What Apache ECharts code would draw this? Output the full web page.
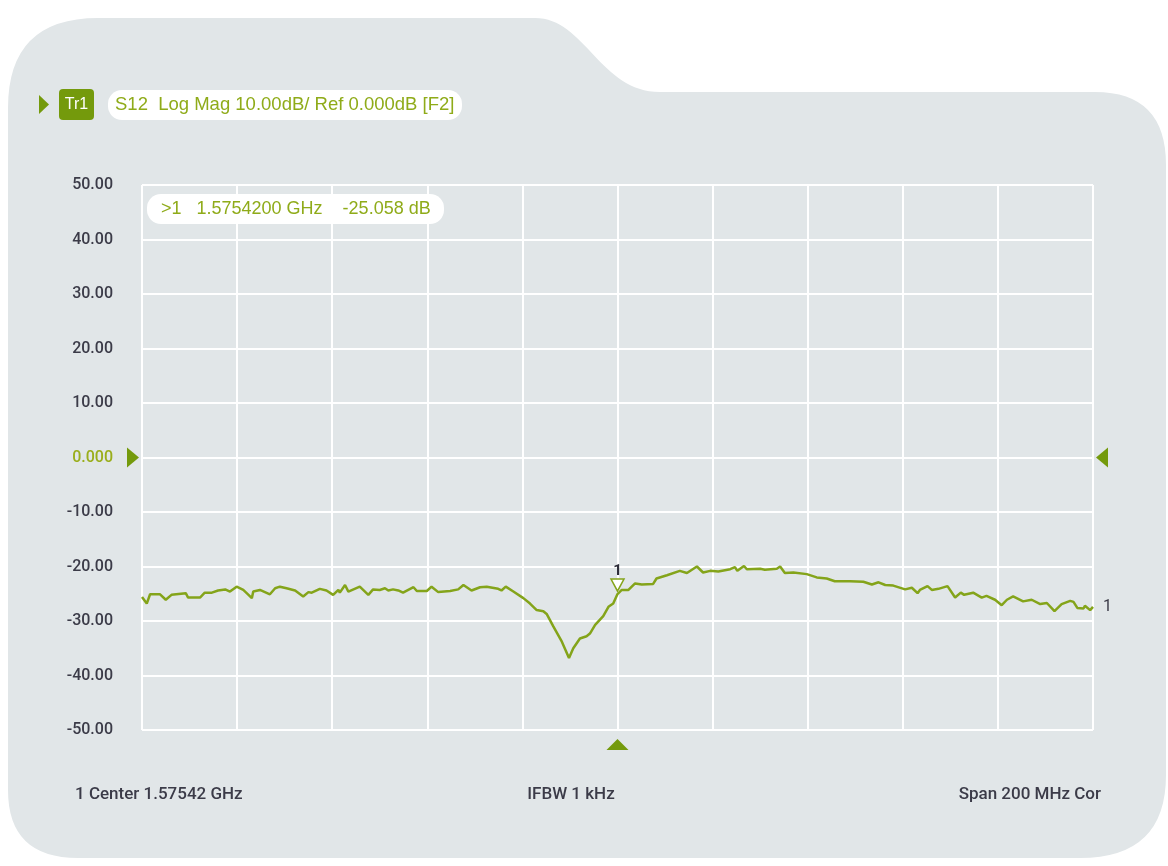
<!DOCTYPE html>
<html>
<head>
<meta charset="utf-8">
<script src="https://cdn.jsdelivr.net/npm/echarts@6/dist/echarts.min.js"></script>
<style>
html,body{margin:0;padding:0;background:#ffffff;}
#chart{width:1168px;height:866px;
  background-repeat:no-repeat;
  background-image:url("data:image/svg+xml;utf8,<svg xmlns='http://www.w3.org/2000/svg' width='1168' height='866'><path fill='%23e1e6e8' d='M 8 108 Q 8 18 98 18 L 535 18 C 585 18 600 92 660 92 L 1095 92 Q 1166 92 1166 165 L 1166 775 Q 1166 858 1080 858 L 78 858 Q 8 858 8 790 Z'/></svg>");}
</style>
</head>
<body>
<div id="chart"></div>
<script>
// Frequency offset from centre (MHz), centre 1.57542 GHz, span 200 MHz
const freqOffsetMHz = [
  -100,-99.9,-99.0,-98.3,-96.2,-95.0,-93.8,-90.8,-90.3,-87.8,-86.8,-85.3,-84.0,-82.5,-81.5,-80.1,-78.7,-77.6,-76.9,-76.6,
  -75.2,-73.1,-72.0,-71.0,-69.6,-67.8,-66.1,-65.0,-64.3,-62.6,-61.2,-59.8,-58.7,-58.4,-57.3,-56.6,-56.3,-54.2,-52.4,-51.4,
  -50.0,-48.9,-48.2,-47.2,-46.1,-45.1,-42.9,-42.2,-40.1,-39.1,-37.7,-35.2,-33.5,-32.4,-30.7,-28.9,-27.5,-25.1,-24.4,-23.5,
  -21.9,-19.8,-18.4,-17.0,-15.6,-14.9,-13.5,-11.7,-10.2,-9.3,-7.9,-6.5,-5.8,-4.7,-3.0,-1.9,-0.9,0,0.9,2.3,
  3.7,5.1,7.5,8.2,10.4,13.1,14.6,16.7,18.0,19.5,21.2,23.7,24.7,25.2,26.6,27.2,30.0,31.0,33.5,34.2,
  35.2,37.0,39.8,41.9,44.0,45.7,48.9,51.7,53.5,54.9,56.3,58.0,60.5,61.9,63.1,63.6,65.2,66.1,67.5,69.4,
  71.0,72.2,72.9,74.8,76.6,77.6,79.4,80.8,81.9,83.2,85.3,87.1,88.9,90.3,91.9,93.4,95.2,95.9,96.7,98.0,
  98.3,99.4,100
];
const s12dB = [
  -25.6,-25.8,-26.8,-25.1,-25.1,-26.1,-25.2,-24.9,-25.7,-25.7,-24.8,-24.8,-24.4,-24.2,-24.6,-23.7,-24.3,-25.2,-25.8,-24.6,
  -24.3,-25.1,-24.0,-23.7,-24.0,-24.4,-25.5,-24.7,-24.8,-24.1,-24.4,-25.2,-24.3,-24.8,-23.4,-24.6,-24.8,-23.7,-25.2,-24.2,
  -24.3,-24.0,-24.4,-24.2,-24.4,-24.8,-23.8,-24.5,-24.5,-23.7,-24.7,-24.5,-24.2,-23.4,-24.4,-23.8,-23.7,-24.1,-24.4,-23.7,
  -24.6,-25.8,-26.8,-28.0,-28.2,-28.7,-31.0,-33.8,-36.8,-35.0,-33.2,-32.8,-32.3,-30.7,-29.1,-27.4,-26.8,-25.058,-24.3,-24.3,
  -23.1,-23.3,-23.2,-22.2,-21.6,-20.8,-21.2,-20.0,-21.1,-20.8,-20.9,-20.5,-20.1,-20.8,-19.9,-20.5,-20.4,-20.6,-20.4,-20.0,
  -21.2,-21.1,-21.4,-22.0,-22.2,-22.7,-22.7,-22.8,-23.3,-22.9,-23.4,-23.5,-24.2,-23.9,-24.9,-24.3,-23.6,-24.3,-24.1,-23.6,
  -25.7,-24.8,-25.2,-24.8,-25.7,-25.4,-26.1,-27.1,-26.1,-25.5,-26.4,-26.1,-26.9,-26.7,-28.2,-26.9,-26.3,-26.5,-27.6,-27.7,
  -27.2,-28.0,-27.4
];
const yTicks = [-50,-40,-30,-20,-10,0,10,20,30,40,50];
const markerFreqMHz = [0];
const markerValueDB = [-25.058];
const markerLabels = ['1'];
const headerText = 'S12  Log Mag 10.00dB/ Ref 0.000dB [F2]';
const markerText = '>1   1.5754200 GHz    -25.058 dB';
const footerLeft = '1 Center 1.57542 GHz';
const footerMid = 'IFBW 1 kHz';
const footerRight = 'Span 200 MHz Cor';

const GREEN = '#84a41a';
const DARKGREEN = '#749a0c';
const TEXTDARK = '#3b3b48';
const LABELFONT = "Roboto, 'DejaVu Sans', sans-serif";
const HEADFONT = "'Liberation Sans', Arial, sans-serif";

const lineData = freqOffsetMHz.map((f, i) => [f, s12dB[i]]);
const markerData = markerFreqMHz.map((f, i) => ({value: [f, markerValueDB[i]], name: markerLabels[i]}));

const chart = echarts.init(document.getElementById('chart'), null, {renderer: 'canvas'});

const staticGraphics = [
  {type: 'polygon', shape: {points: [[39, 95], [49, 104.5], [39, 114]]}, style: {fill: DARKGREEN}},
  {type: 'rect', shape: {x: 59, y: 89, width: 35, height: 31, r: 4}, style: {fill: DARKGREEN}},
  {type: 'text', x: 76.5, y: 104.5, style: {text: 'Tr1', fill: '#ffffff', font: "16px " + HEADFONT, textAlign: 'center', textVerticalAlign: 'middle'}},
  {type: 'rect', shape: {x: 108, y: 90, width: 354, height: 30, r: 14}, style: {fill: '#ffffff'}},
  {type: 'text', x: 115, y: 105, style: {text: headerText, fill: '#8fab19', font: "18.5px " + HEADFONT, textVerticalAlign: 'middle'}},
  {type: 'rect', shape: {x: 147, y: 194, width: 297, height: 30, r: 14}, style: {fill: '#ffffff'}},
  {type: 'text', x: 161, y: 209, style: {text: markerText, fill: '#8fab19', font: "18px " + HEADFONT, textVerticalAlign: 'middle'}},
  {type: 'text', x: 75, y: 795, style: {text: footerLeft, fill: TEXTDARK, font: "500 17px " + LABELFONT, textVerticalAlign: 'middle'}},
  {type: 'text', x: 571, y: 795, style: {text: footerMid, fill: TEXTDARK, font: "500 17px " + LABELFONT, textAlign: 'center', textVerticalAlign: 'middle'}},
  {type: 'text', x: 1101, y: 795, style: {text: footerRight, fill: TEXTDARK, font: "500 17px " + LABELFONT, textAlign: 'right', textVerticalAlign: 'middle'}}
];

chart.setOption({
  animation: false,
  backgroundColor: 'transparent',
  grid: {left: 142, right: 75, top: 185, bottom: 136, containLabel: false},
  xAxis: {
    type: 'value', min: -100, max: 100, interval: 20,
    axisLine: {show: true, lineStyle: {color: '#ffffff', width: 2}},
    axisTick: {show: false},
    axisLabel: {show: false},
    splitLine: {show: true, lineStyle: {color: '#ffffff', width: 2}}
  },
  yAxis: {
    type: 'value', min: -50, max: 50, interval: 10,
    axisLine: {show: true, lineStyle: {color: '#ffffff', width: 2}},
    axisTick: {show: false},
    axisLabel: {
      margin: 29,
      fontSize: 16, fontWeight: 500, fontFamily: LABELFONT,
      formatter: v => (v === 0 ? '0.000' : v.toFixed(2)),
      color: v => (Number(v) === 0 ? '#9aae1c' : TEXTDARK)
    },
    splitLine: {show: true, lineStyle: {color: '#ffffff', width: 2}}
  },
  series: [
    {
      type: 'line', data: lineData, showSymbol: false, symbol: 'none',
      lineStyle: {color: GREEN, width: 2.5}, z: 3,
      endLabel: {show: true, formatter: '1', color: TEXTDARK, fontSize: 16, fontFamily: LABELFONT, distance: 10}
    },
    {
      type: 'scatter', data: markerData, symbol: 'triangle', symbolRotate: 180,
      symbolSize: [13, 12], symbolOffset: [0, -9], z: 4,
      itemStyle: {color: '#ffffff', borderColor: GREEN, borderWidth: 1.5, opacity: 1},
      label: {show: true, formatter: p => p.name, position: 'top', distance: 0, color: '#2e2e3a', fontSize: 15, fontWeight: 'bold', fontFamily: LABELFONT, opacity: 1}
    }
  ],
  graphic: staticGraphics
});

// Reference-level and marker indicators positioned through the axes
const zeroLeft = chart.convertToPixel({gridIndex: 0}, [-100, 0]);
const zeroRight = chart.convertToPixel({gridIndex: 0}, [100, 0]);
const markBottom = chart.convertToPixel({gridIndex: 0}, [markerFreqMHz[0], -50]);
chart.setOption({
  graphic: staticGraphics.concat([
    {type: 'polygon', shape: {points: [[zeroLeft[0] - 15, zeroLeft[1] - 10], [zeroLeft[0] - 3, zeroLeft[1]], [zeroLeft[0] - 15, zeroLeft[1] + 10]]}, style: {fill: DARKGREEN}},
    {type: 'polygon', shape: {points: [[zeroRight[0] + 15, zeroRight[1] - 10], [zeroRight[0] + 3, zeroRight[1]], [zeroRight[0] + 15, zeroRight[1] + 10]]}, style: {fill: DARKGREEN}},
    {type: 'polygon', shape: {points: [[markBottom[0] - 11, markBottom[1] + 20], [markBottom[0], markBottom[1] + 9], [markBottom[0] + 11, markBottom[1] + 20]]}, style: {fill: DARKGREEN}}
  ])
}, {replaceMerge: ['graphic']});
</script>
</body>
</html>
